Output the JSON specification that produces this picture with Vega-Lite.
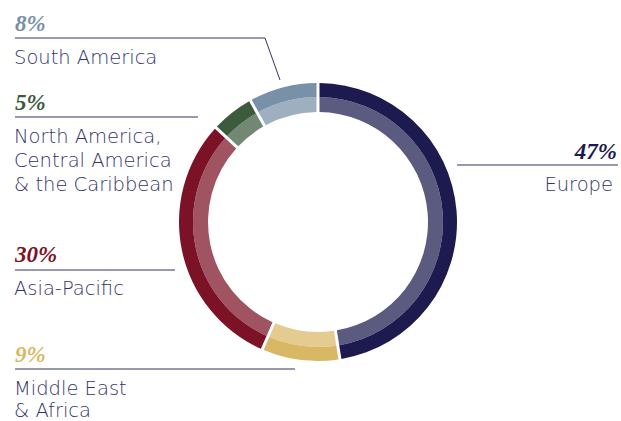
{
  "$schema": "https://vega.github.io/schema/vega-lite/v6.json",
  "width": 621,
  "height": 421,
  "autosize": {"type": "fit", "contains": "padding"},
  "padding": 0,
  "background": "white",
  "config": {"view": {"stroke": null}},
  "datasets": {
    "shares": [
      {"region": "Europe", "share": 47, "rank": 1},
      {"region": "Middle East & Africa", "share": 9, "rank": 2},
      {"region": "Asia-Pacific", "share": 30, "rank": 3},
      {"region": "North America, Central America & the Caribbean", "share": 5, "rank": 4},
      {"region": "South America", "share": 8, "rank": 5}
    ],
    "pcts": [
      {"region": "South America", "label": "8%", "side": "left", "px": 15, "py": 31},
      {"region": "North America, Central America & the Caribbean", "label": "5%", "side": "left", "px": 15, "py": 110},
      {"region": "Asia-Pacific", "label": "30%", "side": "left", "px": 15, "py": 262},
      {"region": "Middle East & Africa", "label": "9%", "side": "left", "px": 15, "py": 362},
      {"region": "Europe", "label": "47%", "side": "right", "px": 617, "py": 159}
    ],
    "names": [
      {"text": "South America", "side": "left", "px": 14, "py": 64},
      {"text": "North America,", "side": "left", "px": 14, "py": 143},
      {"text": "Central America", "side": "left", "px": 14, "py": 167},
      {"text": "& the Caribbean", "side": "left", "px": 14, "py": 191},
      {"text": "Asia-Pacific", "side": "left", "px": 14, "py": 295},
      {"text": "Middle East", "side": "left", "px": 14, "py": 395},
      {"text": "& Africa", "side": "left", "px": 14, "py": 417},
      {"text": "Europe", "side": "right", "px": 613, "py": 191}
    ],
    "leaders": [
      {"px": 15, "py": 38, "px2": 265, "py2": 38},
      {"px": 265, "py": 38, "px2": 280, "py2": 80},
      {"px": 15, "py": 117, "px2": 198, "py2": 117},
      {"px": 15, "py": 270, "px2": 175, "py2": 270},
      {"px": 15, "py": 369, "px2": 295, "py2": 369},
      {"px": 457, "py": 165, "px2": 618, "py2": 165}
    ]
  },
  "layer": [
    {
      "data": {"name": "shares"},
      "mark": {"type": "arc", "outerRadius": 139, "innerRadius": 125, "padAngle": 0.016},
      "encoding": {
        "x": {"datum": 318, "type": "quantitative", "scale": {"domain": [0, 621], "nice": false, "zero": false}, "axis": null},
        "y": {"datum": 222, "type": "quantitative", "scale": {"domain": [0, 421], "nice": false, "zero": false, "reverse": true}, "axis": null},
        "theta": {"field": "share", "type": "quantitative", "stack": true},
        "order": {"field": "rank", "type": "quantitative"},
        "color": {
          "field": "region", "type": "nominal", "legend": null,
          "scale": {
            "domain": ["Europe", "Middle East & Africa", "Asia-Pacific", "North America, Central America & the Caribbean", "South America"],
            "range": ["#1c1a4e", "#d9b865", "#7b1226", "#3c5a3c", "#7890a8"]
          }
        }
      }
    },
    {
      "data": {"name": "shares"},
      "mark": {"type": "arc", "outerRadius": 125, "innerRadius": 110, "padAngle": 0.018, "opacity": 0.72},
      "encoding": {
        "x": {"datum": 318, "type": "quantitative"},
        "y": {"datum": 222, "type": "quantitative"},
        "theta": {"field": "share", "type": "quantitative", "stack": true},
        "order": {"field": "rank", "type": "quantitative"},
        "color": {"field": "region", "type": "nominal", "legend": null}
      }
    },
    {
      "data": {"name": "leaders"},
      "mark": {"type": "rule", "color": "#34345f", "strokeWidth": 1},
      "encoding": {
        "x": {"field": "px", "type": "quantitative"},
        "y": {"field": "py", "type": "quantitative"},
        "x2": {"field": "px2"},
        "y2": {"field": "py2"}
      }
    },
    {
      "data": {"name": "pcts"},
      "transform": [{"filter": "datum.side == 'left'"}],
      "mark": {"type": "text", "align": "left", "baseline": "alphabetic", "font": "Liberation Serif", "fontSize": 23, "fontWeight": "bold", "fontStyle": "italic"},
      "encoding": {
        "x": {"field": "px", "type": "quantitative"},
        "y": {"field": "py", "type": "quantitative"},
        "text": {"field": "label"},
        "color": {"field": "region", "type": "nominal", "legend": null}
      }
    },
    {
      "data": {"name": "pcts"},
      "transform": [{"filter": "datum.side == 'right'"}],
      "mark": {"type": "text", "align": "right", "baseline": "alphabetic", "font": "Liberation Serif", "fontSize": 23, "fontWeight": "bold", "fontStyle": "italic"},
      "encoding": {
        "x": {"field": "px", "type": "quantitative"},
        "y": {"field": "py", "type": "quantitative"},
        "text": {"field": "label"},
        "color": {"field": "region", "type": "nominal", "legend": null}
      }
    },
    {
      "data": {"name": "names"},
      "transform": [{"filter": "datum.side == 'left'"}],
      "mark": {"type": "text", "align": "left", "baseline": "alphabetic", "font": "DejaVu Sans", "fontSize": 19.5, "fontWeight": 300, "color": "#34346a"},
      "encoding": {
        "x": {"field": "px", "type": "quantitative"},
        "y": {"field": "py", "type": "quantitative"},
        "text": {"field": "text"}
      }
    },
    {
      "data": {"name": "names"},
      "transform": [{"filter": "datum.side == 'right'"}],
      "mark": {"type": "text", "align": "right", "baseline": "alphabetic", "font": "DejaVu Sans", "fontSize": 19.5, "fontWeight": 300, "color": "#34346a"},
      "encoding": {
        "x": {"field": "px", "type": "quantitative"},
        "y": {"field": "py", "type": "quantitative"},
        "text": {"field": "text"}
      }
    }
  ]
}
